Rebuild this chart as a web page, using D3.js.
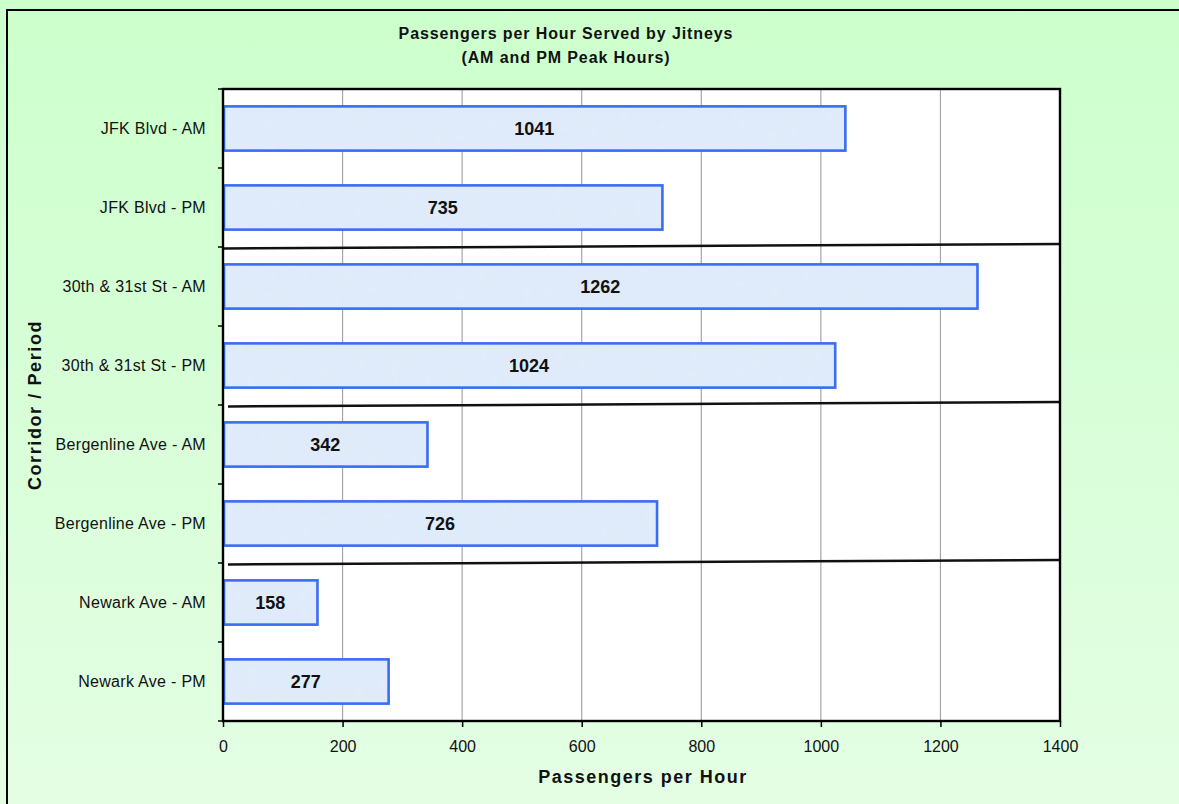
<!DOCTYPE html>
<html>
<head>
<meta charset="utf-8">
<script src="https://cdn.jsdelivr.net/npm/d3@7"></script>
<style>
  html, body { margin: 0; padding: 0; background: #fff; }
  svg { display: block; font-family: "Liberation Sans", Arial, sans-serif; }
</style>
</head>
<body>
<svg id="chart" width="1179" height="804"></svg>
<script>
// Corridor / period categories and peak-hour passenger counts
const categories = [
  "JFK Blvd - AM", "JFK Blvd - PM",
  "30th & 31st St - AM", "30th & 31st St - PM",
  "Bergenline Ave - AM", "Bergenline Ave - PM",
  "Newark Ave - AM", "Newark Ave - PM"
];
const passengers = [1041, 735, 1262, 1024, 342, 726, 158, 277];
const xTicks = [0, 200, 400, 600, 800, 1000, 1200, 1400];
// Group dividers sit after these category indexes
const dividersAfter = [1, 3, 5];

const svg = d3.select("#chart");
const W = 1179, H = 804;
const plot = { left: 223, top: 89, right: 1060, bottom: 721 };

const defs = svg.append("defs");
const bg = defs.append("linearGradient").attr("id", "bg")
  .attr("x1", 0).attr("y1", 0).attr("x2", 0).attr("y2", 1);
bg.append("stop").attr("offset", "0%").attr("stop-color", "#ccffcc");
bg.append("stop").attr("offset", "100%").attr("stop-color", "#e4fee4");

// Mottled light-blue texture for the bars
const tex = defs.append("filter").attr("id", "mottle")
  .attr("x", 0).attr("y", 0).attr("width", 1).attr("height", 1);
tex.append("feTurbulence").attr("type", "fractalNoise")
  .attr("baseFrequency", "0.09").attr("numOctaves", 3).attr("seed", 4).attr("result", "n");
tex.append("feColorMatrix").attr("in", "n").attr("type", "matrix")
  .attr("values", "0 0 0 0 0.76  0 0 0 0 0.84  0 0 0 0 0.95  0 0 0 2.2 -0.9")
  .attr("result", "spots");
tex.append("feComposite").attr("in", "spots").attr("in2", "SourceGraphic")
  .attr("operator", "atop");

// Background and outer frame
svg.append("rect").attr("width", W).attr("height", H).attr("fill", "url(#bg)");
svg.append("rect").attr("x", 7).attr("y", 10).attr("width", W + 10).attr("height", H + 10)
  .attr("fill", "none").attr("stroke", "#000").attr("stroke-width", 2);

const x = d3.scaleLinear().domain([0, 1400]).range([plot.left, plot.right]);
const y = d3.scaleBand().domain(categories).range([plot.top, plot.bottom])
  .paddingInner(0.44).paddingOuter(0.22);
const band = (plot.bottom - plot.top) / categories.length;

// Plot area
svg.append("rect").attr("x", plot.left).attr("y", plot.top)
  .attr("width", plot.right - plot.left).attr("height", plot.bottom - plot.top)
  .attr("fill", "#ffffff");

// Vertical gridlines
svg.append("g").selectAll("line").data(xTicks.slice(1, -1)).join("line")
  .attr("x1", d => x(d)).attr("x2", d => x(d))
  .attr("y1", plot.top).attr("y2", plot.bottom)
  .attr("stroke", "#a6a6a6").attr("stroke-width", 1.2);

// Bars
const bars = svg.append("g");
bars.selectAll("rect.fill").data(categories).join("rect")
  .attr("class", "fill")
  .attr("x", x(0)).attr("y", d => y(d))
  .attr("width", (d, i) => x(passengers[i]) - x(0))
  .attr("height", y.bandwidth())
  .attr("fill", "#dfeafa").attr("filter", "url(#mottle)");
bars.selectAll("rect.edge").data(categories).join("rect")
  .attr("class", "edge")
  .attr("x", x(0) + 1).attr("y", d => y(d))
  .attr("width", (d, i) => x(passengers[i]) - x(0) - 1)
  .attr("height", y.bandwidth())
  .attr("fill", "none").attr("stroke", "#3a6cf4").attr("stroke-width", 2.6);

// Value labels
svg.append("g").selectAll("text").data(categories).join("text")
  .attr("x", (d, i) => (x(0) + x(passengers[i])) / 2)
  .attr("y", d => y(d) + y.bandwidth() / 2)
  .attr("dy", "0.36em").attr("text-anchor", "middle")
  .attr("font-size", 18).attr("font-weight", "bold").attr("fill", "#111")
  .text((d, i) => passengers[i]);

// Group dividers
svg.append("g").selectAll("line").data(dividersAfter).join("line")
  .attr("x1", (d, i) => i === 0 ? plot.left : plot.left + 5)
  .attr("x2", plot.right)
  .attr("y1", d => plot.top + band * (d + 1) + 1.5)
  .attr("y2", d => plot.top + band * (d + 1) - 3)
  .attr("stroke", "#111").attr("stroke-width", 2.5);

// Axes
const xAxis = svg.append("g").attr("transform", `translate(0,${plot.bottom})`)
  .call(d3.axisBottom(x).tickValues(xTicks).tickFormat(d3.format("d"))
    .tickSize(6).tickPadding(14));
xAxis.select(".domain").remove();
xAxis.selectAll("line").attr("stroke", "#000").attr("stroke-width", 1.5);
xAxis.selectAll("text").attr("font-size", 16).attr("fill", "#111")
  .attr("font-family", "Liberation Sans, Arial, sans-serif");

const yAxis = svg.append("g").attr("transform", `translate(${plot.left},0)`)
  .call(d3.axisLeft(y).tickSize(0).tickPadding(17));
yAxis.select(".domain").remove();
yAxis.selectAll("text").attr("font-size", 16).attr("letter-spacing", 0.3).attr("fill", "#111")
  .attr("font-family", "Liberation Sans, Arial, sans-serif");
// Boundary ticks between categories
svg.append("g").selectAll("line").data(d3.range(categories.length + 1)).join("line")
  .attr("x1", plot.left - 5).attr("x2", plot.left)
  .attr("y1", i => plot.top + band * i).attr("y2", i => plot.top + band * i)
  .attr("stroke", "#000").attr("stroke-width", 1.5);

// Plot frame
svg.append("rect").attr("x", plot.left).attr("y", plot.top)
  .attr("width", plot.right - plot.left).attr("height", plot.bottom - plot.top)
  .attr("fill", "none").attr("stroke", "#000").attr("stroke-width", 2.4);

// Titles
const title = svg.append("text").attr("x", 566).attr("text-anchor", "middle")
  .attr("font-size", 16).attr("font-weight", "bold").attr("letter-spacing", 0.9).attr("fill", "#111");
title.append("tspan").attr("x", 566).attr("y", 39).text("Passengers per Hour Served by Jitneys");
title.append("tspan").attr("x", 566).attr("y", 63).text("(AM and PM Peak Hours)");

svg.append("text").attr("x", 643).attr("y", 783).attr("text-anchor", "middle")
  .attr("font-size", 18).attr("font-weight", "bold").attr("letter-spacing", 1.5).attr("fill", "#111")
  .text("Passengers per Hour");

svg.append("text")
  .attr("transform", "translate(41,405) rotate(-90)")
  .attr("text-anchor", "middle")
  .attr("font-size", 18).attr("font-weight", "bold").attr("letter-spacing", 1.6).attr("fill", "#111")
  .text("Corridor / Period");
</script>
</body>
</html>
